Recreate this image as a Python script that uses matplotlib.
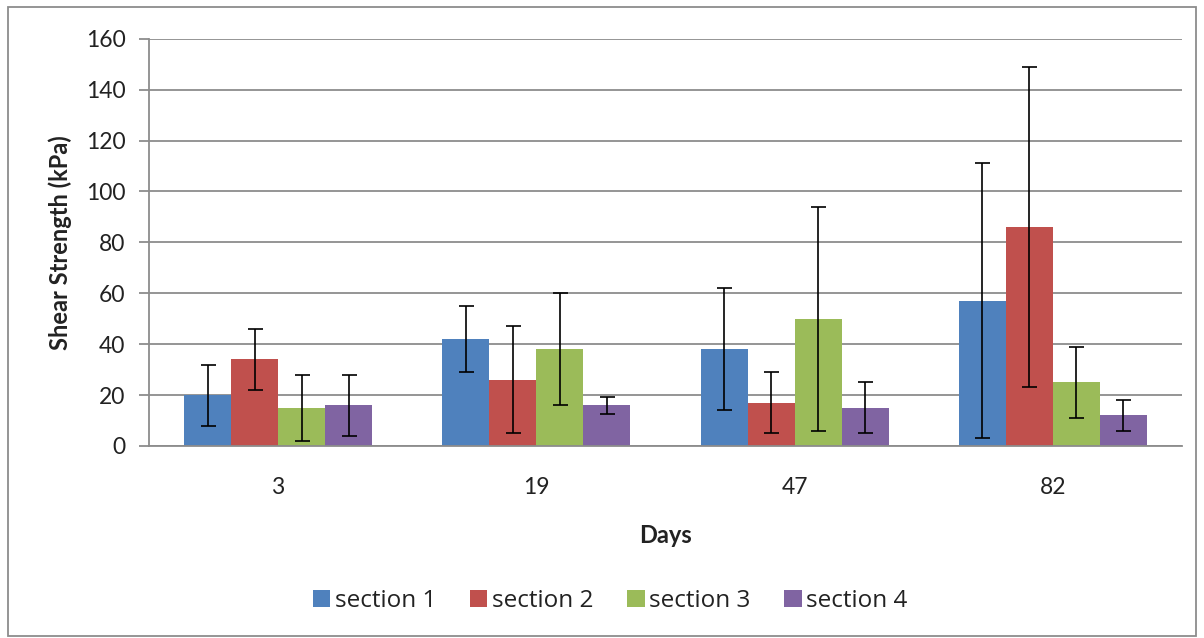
import matplotlib
matplotlib.use("Agg")
import matplotlib.pyplot as plt
import numpy as np
from matplotlib.patches import Rectangle

days = ["3", "19", "47", "82"]
series_names = ["section 1", "section 2", "section 3", "section 4"]
section1 = [20, 42, 38, 57]
section2 = [34, 26, 17, 86]
section3 = [15, 38, 50, 25]
section4 = [16, 16, 15, 12]
err1 = [12, 13, 24, 54]
err2 = [12, 21, 12, 63]
err3 = [13, 22, 44, 14]
err4 = [12, 3.3, 10, 6]
colors = ["#4F81BD", "#C0504D", "#9BBB59", "#8064A2"]

values = [section1, section2, section3, section4]
errors = [err1, err2, err3, err4]

plt.rcParams['font.family'] = ['Lato', 'DejaVu Sans']

fig = plt.figure(figsize=(12.04, 6.38), dpi=100)
ax = fig.add_axes([149/1204, 1-446/638, (1182-149)/1204, (446-38.7)/638])

x = np.arange(len(days))
bw = 1/5.5
for i, (vals, errs) in enumerate(zip(values, errors)):
    pos = x + (i - 1.5) * bw
    ax.bar(pos, vals, width=bw, color=colors[i], label=series_names[i], zorder=2)
    ax.errorbar(pos, vals, yerr=errs, fmt='none', ecolor='black',
                elinewidth=1.2, capsize=5.4, capthick=1.2, zorder=3)

ax.set_xlim(-0.5, len(days) - 0.5)
ax.set_ylim(0, 160)
ax.set_yticks(np.arange(0, 161, 20))
ax.set_xticks(x)
ax.set_xticklabels(days)
ax.yaxis.grid(True, color='#8c8c8c', linewidth=1.3, zorder=0)
ax.set_axisbelow(True)
for s in ['top', 'right']:
    ax.spines[s].set_visible(False)
ax.spines['left'].set_color('#8c8c8c')
ax.spines['bottom'].set_color('#8c8c8c')
ax.spines['left'].set_linewidth(1.3)
ax.spines['bottom'].set_linewidth(1.3)
ax.tick_params(axis='y', length=7, color='#8c8c8c', width=1.3, labelsize=16.5, pad=10, labelcolor='#222222')
ax.tick_params(axis='x', length=0, labelsize=16.5, pad=22, labelcolor='#222222')

ax.set_ylabel("Shear Strength (kPa)", fontsize=17, fontweight='bold', labelpad=10, color='#222222')
ax.set_xlabel("Days", fontsize=17, fontweight='bold', labelpad=19, color='#222222')

leg = fig.legend(loc='center', bbox_to_anchor=(610/1204, 1-601/638), ncol=4, frameon=False,
                 prop={'family': ['Open Sans', 'DejaVu Sans'], 'size': 17.5},
                 handlelength=0.72, handleheight=0.72, handletextpad=0.17,
                 columnspacing=1.4)
for t in leg.get_texts():
    t.set_color('#222222')

fig.patches.append(Rectangle((8/1204, 2/638), (1196-8)/1204, (631-2)/638,
                             transform=fig.transFigure, fill=False,
                             edgecolor='#8c8c8c', linewidth=1.3))

fig.savefig("out.png", dpi=100)
